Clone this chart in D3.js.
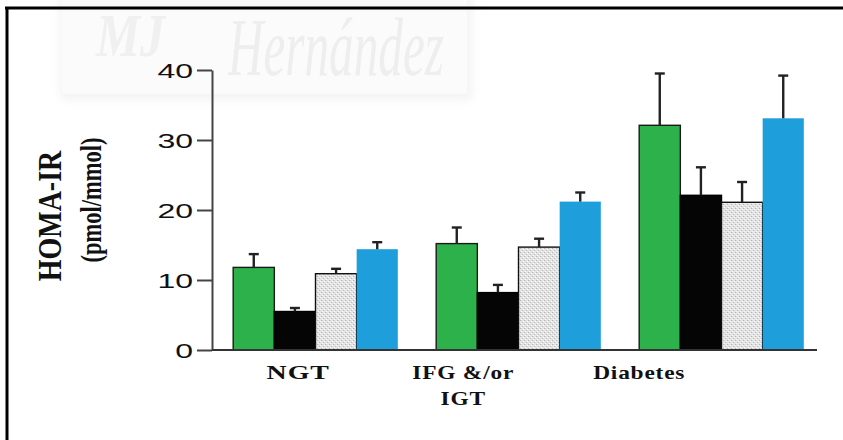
<!DOCTYPE html>
<html>
<head>
<meta charset="utf-8">
<script src="https://cdn.jsdelivr.net/npm/d3@7"></script>
<style>
  html, body { margin: 0; padding: 0; background: #fff; }
  svg { display: block; }
</style>
</head>
<body>
<svg id="chart" width="843" height="440"></svg>
<script>
// ---- data ----
const categories = ["NGT", "IFG &/or IGT", "Diabetes"];
const categoryLines = [["NGT"], ["IFG &/or", "IGT"], ["Diabetes"]];
const seriesNames = ["Group 1", "Group 2", "Group 3", "Group 4"];
const values = [
  [11.8, 5.5, 10.9, 14.4],   // NGT
  [15.2, 8.2, 14.7, 21.2],   // IFG &/or IGT
  [32.1, 22.1, 21.1, 33.1]   // Diabetes
];
const errorTops = [
  [13.7, 6.0, 11.6, 15.4],
  [17.5, 9.3, 15.9, 22.5],
  [39.5, 26.1, 24.0, 39.2]
];
const yTicks = [0, 10, 20, 30, 40];
const yTitle = ["HOMA-IR", "(pmol/mmol)"];

// ---- layout ----
const svg = d3.select("#chart");
const W = 843, H = 440;
const axisX = 212, baseRight = 817;
const yTop = 70, yBottom = 350;

const x0 = d3.scaleBand().domain(categories).range([214, 823])
  .paddingInner(0.189).paddingOuter(0.0945);
const x1 = d3.scaleBand().domain(seriesNames).range([0, x0.bandwidth()]).padding(0);
const y = d3.scaleLinear().domain([0, 40]).range([yBottom, yTop]);

const fills = ["#2db24b", "#050505", "url(#dots)", "#1e9fdb"];
const strokes = ["#1a1a1a", "#000", "#111", "none"];

// pattern for the stippled gray bars
const defs = svg.append("defs");
const pat = defs.append("pattern").attr("id", "dots").attr("patternUnits", "userSpaceOnUse")
  .attr("width", 4).attr("height", 4);
pat.append("rect").attr("width", 4).attr("height", 4).attr("fill", "#e4e4e4");
pat.append("rect").attr("x", 0).attr("y", 0).attr("width", 1).attr("height", 1).attr("fill", "#a8a8a8");
pat.append("rect").attr("x", 2).attr("y", 2).attr("width", 1).attr("height", 1).attr("fill", "#b4b4b4");
pat.append("rect").attr("x", 1).attr("y", 3).attr("width", 1).attr("height", 1).attr("fill", "#ffffff");
pat.append("rect").attr("x", 3).attr("y", 1).attr("width", 1).attr("height", 1).attr("fill", "#ffffff");
const blur = defs.append("filter").attr("id", "soft").attr("x", "-10%").attr("y", "-10%").attr("width", "120%").attr("height", "130%");
blur.append("feGaussianBlur").attr("stdDeviation", 4);

svg.append("rect").attr("width", W).attr("height", H).attr("fill", "#fff");

// watermark
const wm = svg.append("g").attr("class", "watermark");
wm.append("rect").attr("x", 60).attr("y", -10).attr("width", 412).attr("height", 110)
  .attr("fill", "#ececec").attr("filter", "url(#soft)").attr("opacity", 0.6);
wm.append("rect").attr("x", 62).attr("y", -10).attr("width", 405).attr("height", 104)
  .attr("fill", "#fbfbfb");
wm.append("text").attr("transform", "translate(96,56) scale(0.8,1)")
  .attr("font-family", "Liberation Serif").attr("font-style", "italic").attr("font-weight", "bold")
  .attr("font-size", 62).attr("fill", "#f0f0f0").text("MJ");
wm.append("text").attr("transform", "translate(228,75) scale(0.6,1)")
  .attr("font-family", "Liberation Serif").attr("font-style", "italic")
  .attr("font-size", 82).attr("fill", "#eeeeee").text("Hernández");

// frame
svg.append("line").attr("x1", 5).attr("x2", W).attr("y1", 8).attr("y2", 8)
  .attr("stroke", "#000").attr("stroke-width", 3);
svg.append("line").attr("x1", 7).attr("x2", 7).attr("y1", 7).attr("y2", H)
  .attr("stroke", "#000").attr("stroke-width", 3);

// bars
const groups = svg.append("g").selectAll("g").data(categories).join("g")
  .attr("transform", d => `translate(${x0(d)},0)`);

groups.selectAll("rect.bar").data((d, i) => values[i].map((v, j) => ({ v, j })))
  .join("rect").attr("class", "bar")
  .attr("x", d => x1(seriesNames[d.j]))
  .attr("y", d => y(d.v))
  .attr("width", x1.bandwidth())
  .attr("height", d => y(0) - y(d.v))
  .attr("fill", d => fills[d.j])
  .attr("stroke", d => strokes[d.j])
  .attr("stroke-width", 1.4);

// error bars
const eb = groups.selectAll("g.err").data((d, i) => errorTops[i].map((e, j) => ({ e, v: values[i][j], j })))
  .join("g").attr("class", "err");
eb.append("line")
  .attr("x1", d => x1(seriesNames[d.j]) + x1.bandwidth() / 2)
  .attr("x2", d => x1(seriesNames[d.j]) + x1.bandwidth() / 2)
  .attr("y1", d => y(d.v)).attr("y2", d => y(d.e))
  .attr("stroke", "#222").attr("stroke-width", 2.4);
eb.append("line")
  .attr("x1", d => x1(seriesNames[d.j]) + x1.bandwidth() / 2 - 5)
  .attr("x2", d => x1(seriesNames[d.j]) + x1.bandwidth() / 2 + 5)
  .attr("y1", d => y(d.e)).attr("y2", d => y(d.e))
  .attr("stroke", "#222").attr("stroke-width", 2.4);

// y axis
const yAxis = d3.axisLeft(y).tickValues(yTicks).tickSize(15).tickPadding(5).tickSizeOuter(0);
const ga = svg.append("g").attr("transform", `translate(${axisX},0)`).call(yAxis);
ga.select(".domain").attr("stroke", "#444").attr("stroke-width", 2);
ga.selectAll(".tick line").attr("stroke", "#444").attr("stroke-width", 2);
ga.selectAll(".tick text")
  .attr("font-family", "Liberation Sans, Arial, sans-serif")
  .attr("font-size", 20).attr("fill", "#111")
  .attr("x", null).attr("dy", null)
  .attr("dominant-baseline", "central")
  .attr("text-anchor", "end")
  .attr("transform", "translate(-19,1) scale(1.6,1)");

// baseline
svg.append("line").attr("x1", axisX).attr("x2", baseRight)
  .attr("y1", y(0)).attr("y2", y(0)).attr("stroke", "#333").attr("stroke-width", 2);

// category labels
const labelOffsets = [65, 27, 0];
const labelStretch = [1.55, 1.3, 1.3];
categoryLines.forEach((lines, i) => {
  const cx = x0(categories[i]) + labelOffsets[i];
  lines.forEach((t, k) => {
    svg.append("text")
      .attr("transform", `translate(${cx},${379 + k * 26}) scale(${labelStretch[i]},1)`)
      .attr("text-anchor", "middle")
      .attr("font-family", "Liberation Serif, Times New Roman, serif")
      .attr("font-weight", "bold").attr("font-size", 18)
      .attr("letter-spacing", 0.6)
      .attr("fill", "#111").text(t);
  });
});

// y title
svg.append("text")
  .attr("transform", "translate(61,216) rotate(-90) scale(1,1.2)")
  .attr("text-anchor", "middle")
  .attr("font-family", "Liberation Serif, Times New Roman, serif")
  .attr("font-weight", "bold").attr("font-size", 28).attr("fill", "#111")
  .text(yTitle[0]);
svg.append("text")
  .attr("transform", "translate(101,200) rotate(-90) scale(1,1.3)")
  .attr("text-anchor", "middle")
  .attr("font-family", "Liberation Serif, Times New Roman, serif")
  .attr("font-weight", "bold").attr("font-size", 22.5).attr("fill", "#111")
  .text(yTitle[1]);
</script>
</body>
</html>
